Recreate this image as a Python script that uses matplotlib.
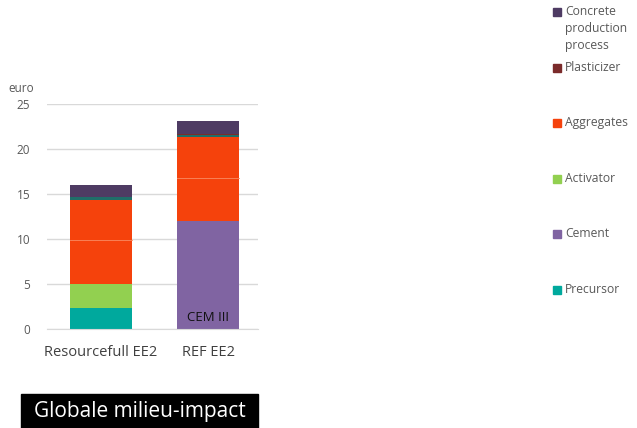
import numpy as np
import matplotlib
matplotlib.use("Agg")
import matplotlib.pyplot as plt
from matplotlib.patches import Rectangle

plt.rcParams['font.family'] = ['Open Sans', 'DejaVu Sans']

# -------------------------------------------------
# DATA (euro per segment, bottom to top)
# -------------------------------------------------
bars = ["Resourcefull EE2", "REF EE2"]

precursor = [2.3, 0.0]
cement = [0.0, 11.95]
activator = [2.64, 0.0]
aggregates_a = [4.9, 4.85]
aggregates_b = [4.46, 4.5]
other = [0.3, 0.3]
plasticizer = [0.0, 0.1]
concrete_process = [1.35, 1.45]

legend_names = ["Concrete\nproduction\nprocess", "Plasticizer", "Aggregates",
                "Activator", "Cement", "Precursor"]

c_precursor = "#00A99D"
c_cement = "#8064A2"
c_activator = "#92D050"
c_aggregates = "#F5420C"
c_other = "#1F6E69"
c_plasticizer = "#7B2B2B"
c_process = "#4E3B63"

# -------------------------------------------------
# PLOT
# -------------------------------------------------
fig = plt.figure(figsize=(6.37, 4.28), dpi=100)
ax = fig.add_axes([47 / 637, 1 - 328.7 / 428, 211 / 637, 224.7 / 428])

x = np.arange(len(bars))
width = 0.58

series = [
    (precursor, c_precursor, None),
    (cement, c_cement, None),
    (activator, c_activator, None),
    (aggregates_a, c_aggregates, None),
    (aggregates_b, c_aggregates, "#F98A62"),
    (other, c_other, None),
    (plasticizer, c_plasticizer, None),
    (concrete_process, c_process, None),
]

bottom = np.zeros(len(bars))
for values, color, edge in series:
    values = np.array(values)
    ax.bar(x, values, width, bottom=bottom, color=color, zorder=2)
    if edge is not None:
        # faint split line inside the aggregates block
        for xi, b in zip(x, bottom):
            ax.plot([xi - width / 2, xi + width / 2], [b, b],
                    color=edge, linewidth=0.6, zorder=3)
    bottom = bottom + values

ax.set_xlim(-0.505, 1.467)
ax.set_ylim(0, 25)
ax.set_yticks([0, 5, 10, 15, 20, 25])
ax.yaxis.grid(True, color="#D9D9D9", linewidth=1, zorder=0)
ax.set_axisbelow(True)
for s in ax.spines.values():
    s.set_visible(False)
ax.spines["bottom"].set_visible(True)
ax.spines["bottom"].set_color("#D9D9D9")
ax.tick_params(axis="both", length=0)
ax.tick_params(axis="y", labelsize=8.5, labelcolor="#595959", pad=12)
ax.set_xticks(x)
ax.set_xticklabels(bars, fontsize=10.5, color="#404040")
ax.tick_params(axis="x", pad=12)

ax.text(1, 0.5, "CEM III", ha="center", va="bottom", fontsize=9.5,
        color="#111111", zorder=4)

fig.text(8 / 637, 1 - 88 / 428, "euro", fontsize=8.5, color="#595959",
         va="center", ha="left")

# legend drawn by hand to keep the wide spacing
legend_colors = [c_process, c_plasticizer, c_aggregates, c_activator,
                 c_cement, c_precursor]
legend_y = [12, 68, 123, 179, 234, 290]
for name, color, ly in zip(legend_names, legend_colors, legend_y):
    fig.add_artist(Rectangle((553 / 637, 1 - (ly + 4) / 428), 8 / 637, 8 / 428,
                             transform=fig.transFigure, color=color))
    fig.text(565 / 637, 1 - (ly - 7) / 428, name, fontsize=8.7,
             color="#595959", va="top", ha="left", linespacing=1.4)

# black title box
fig.add_artist(Rectangle((21 / 637, 0), 237 / 637, 34 / 428,
                         transform=fig.transFigure, color="black"))
fig.text(34 / 637, 16 / 428, "Globale milieu-impact", fontsize=15,
         color="white", va="center", ha="left")

fig.savefig("out.png", dpi=100)
